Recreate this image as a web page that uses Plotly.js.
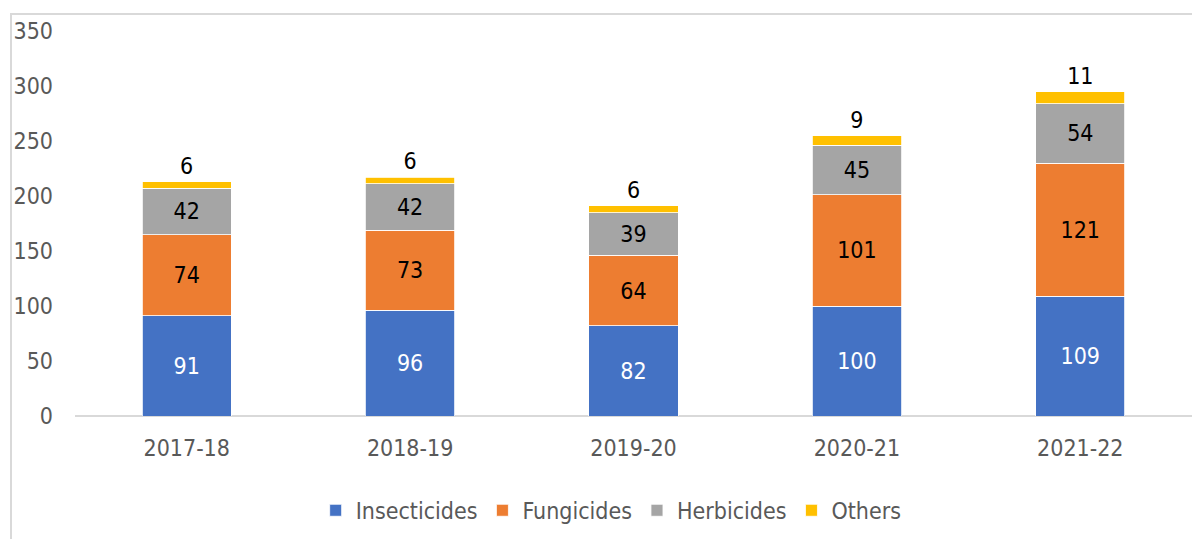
<!DOCTYPE html>
<html>
<head>
<meta charset="utf-8">
<script src="https://cdn.plot.ly/plotly-3.0.1.min.js"></script>
<style>
  html, body { margin: 0; padding: 0; background: #fff; overflow: hidden; }
  #chart { width: 1192px; height: 539px; position: absolute; left: 0; top: 0; }
  #frame { position: absolute; left: 10px; top: 13px; width: 1300px; height: 600px;
           border: 2px solid #d9d9d9; pointer-events: none; z-index: 5; }
</style>
</head>
<body>
<div id="chart"></div>
<div id="frame"></div>
<script>
const years = ["2017-18", "2018-19", "2019-20", "2020-21", "2021-22"];
const insecticides = [91, 96, 82, 100, 109];
const fungicides = [74, 73, 64, 101, 121];
const herbicides = [42, 42, 39, 45, 54];
const others = [6, 6, 6, 9, 11];
const yTicks = [0, 50, 100, 150, 200, 250, 300, 350];

const FONT = "DejaVu Sans Condensed, Liberation Sans, sans-serif";
const FS = 23;
function series(name, vals, color, textColor, pos) {
  return {
    type: "bar", name: name, x: years, y: vals,
    marker: { color: color, line: { color: "#ffffff", width: 0.8 } },
    text: vals.map(String), textposition: pos,
    insidetextanchor: "middle", constraintext: "none",
    textfont: { family: FONT, size: FS, color: textColor },
    outsidetextfont: { family: FONT, size: FS, color: textColor },
    cliponaxis: false, hoverinfo: "skip"
  };
}
const data = [
  series("Insecticides", insecticides, "#4472C4", "#ffffff", "inside"),
  series("Fungicides", fungicides, "#ED7D31", "#000000", "inside"),
  series("Herbicides", herbicides, "#A5A5A5", "#000000", "inside"),
  series("Others", others, "#FFC000", "#000000", "outside")
];
const layout = {
  width: 1192, height: 539,
  margin: { l: 75, r: 0, t: 31, b: 123 },
  barmode: "stack", bargap: 0.6,
  paper_bgcolor: "#ffffff", plot_bgcolor: "#ffffff",
  font: { family: FONT, color: "#595959", size: FS },
  showlegend: true,
  legend: { orientation: "h", x: 0.48, xanchor: "center", y: -0.245, yanchor: "middle",
            font: { family: FONT, size: FS, color: "#595959" }, traceorder: "normal",
            itemwidth: 30, tracegroupgap: 0 },
  xaxis: { type: "category", showgrid: false, zeroline: false, showline: false,
           ticks: "", ticklabelstandoff: 16, tickfont: { family: FONT, size: FS, color: "#595959" } },
  yaxis: { range: [0, 350], tickvals: yTicks, ticktext: yTicks.map(String), showgrid: false,
           zeroline: true, zerolinecolor: "#d9d9d9", zerolinewidth: 2, showline: false,
           ticks: "", ticklabelstandoff: 21, tickfont: { family: FONT, size: FS, color: "#595959" } }
};
Plotly.newPlot("chart", data, layout, { displayModeBar: false, staticPlot: true });
</script>
</body>
</html>
